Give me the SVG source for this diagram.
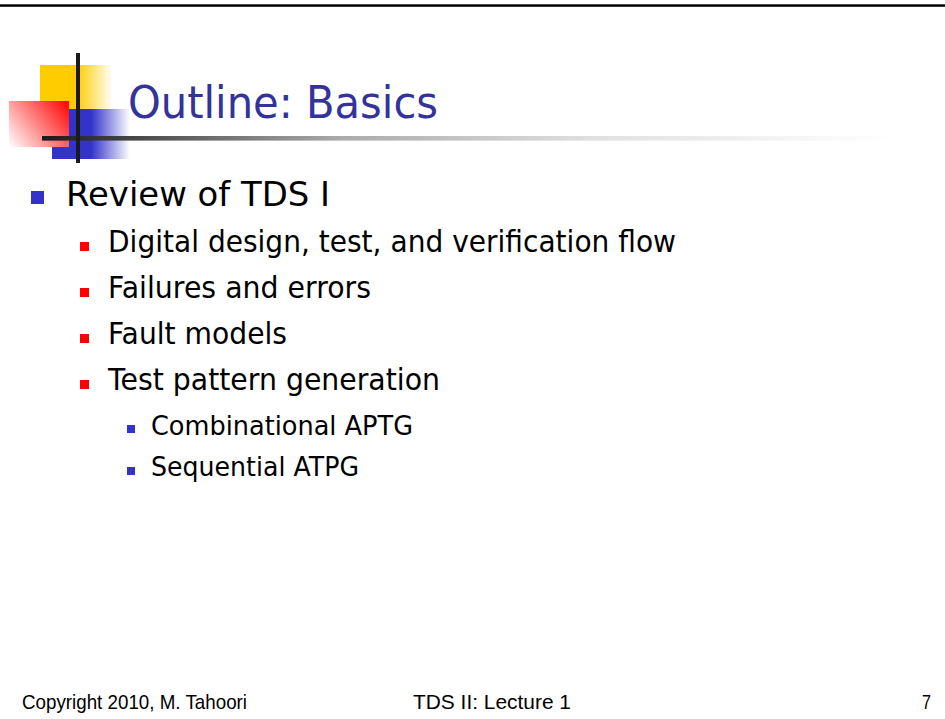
<svg xmlns="http://www.w3.org/2000/svg" width="945" height="719" viewBox="0 0 945 719">
  <defs>
    <linearGradient id="gYellow" x1="40" y1="0" x2="113" y2="0" gradientUnits="userSpaceOnUse">
      <stop offset="0" stop-color="#FFCC00"/>
      <stop offset="0.5" stop-color="#FFCC00"/>
      <stop offset="1" stop-color="#FFCC00" stop-opacity="0"/>
    </linearGradient>
    <linearGradient id="gBlue" x1="52" y1="0" x2="130" y2="0" gradientUnits="userSpaceOnUse">
      <stop offset="0" stop-color="#3333CC"/>
      <stop offset="0.5" stop-color="#3333CC"/>
      <stop offset="1" stop-color="#3333CC" stop-opacity="0"/>
    </linearGradient>
    <linearGradient id="gRed" x1="69" y1="101" x2="9" y2="147" gradientUnits="userSpaceOnUse">
      <stop offset="0" stop-color="#FF0000"/>
      <stop offset="1" stop-color="#FFFFFF"/>
    </linearGradient>
    <linearGradient id="gLine" x1="42" y1="0" x2="892" y2="0" gradientUnits="userSpaceOnUse">
      <stop offset="0" stop-color="#1a1a1a"/>
      <stop offset="0.1" stop-color="#444444"/>
      <stop offset="0.35" stop-color="#aaaaaa"/>
      <stop offset="0.65" stop-color="#e0e0e0"/>
      <stop offset="1" stop-color="#ffffff"/>
    </linearGradient>
  </defs>
  <style>
    .t { font-family: "DejaVu Sans", "Noto Sans", sans-serif; fill: #000; }
    .l1 { font-size: 34px; }
    .l2 { font-size: 30px; }
    .l3 { font-size: 26px; }
    .title { font-family: "DejaVu Sans", "Noto Sans", sans-serif; font-size: 44px; fill: #333399; }
    .foot { font-family: "Liberation Sans", Arial, sans-serif; font-size: 21px; fill: #000; }
    .bBlue { fill: #3333CC; }
    .bRed { fill: #FF0000; }
  </style>
  <rect x="0" y="0" width="945" height="719" fill="#ffffff"/>
  <rect id="topRule" x="0" y="4.3" width="945" height="2.5" fill="#000"/>

  <g id="logo">
    <rect x="40" y="65" width="73" height="44" fill="url(#gYellow)"/>
    <rect x="52" y="109" width="78" height="50" fill="url(#gBlue)"/>
    <rect x="9" y="101" width="60" height="46" fill="url(#gRed)"/>
    <rect x="42" y="136" width="850" height="4.6" fill="url(#gLine)"/>
    <rect x="76" y="53" width="4" height="110" fill="#1a1a1a"/>
  </g>

  <g id="title">
    <text class="title" x="128" y="118" textLength="310" lengthAdjust="spacingAndGlyphs">Outline: Basics</text>
  </g>

  <g id="item-review">
    <rect class="bBlue" x="31" y="191" width="13" height="13"/>
    <text class="t l1" x="66" y="206" textLength="264" lengthAdjust="spacingAndGlyphs">Review of TDS I</text>
  </g>
  <g id="item-digital">
    <rect class="bRed" x="80" y="242" width="9" height="9"/>
    <text class="t l2" x="108" y="252" textLength="568" lengthAdjust="spacingAndGlyphs">Digital design, test, and verification flow</text>
  </g>
  <g id="item-failures">
    <rect class="bRed" x="80" y="288" width="9" height="9"/>
    <text class="t l2" x="108" y="298" textLength="263" lengthAdjust="spacingAndGlyphs">Failures and errors</text>
  </g>
  <g id="item-fault">
    <rect class="bRed" x="80" y="334" width="9" height="9"/>
    <text class="t l2" x="108" y="344" textLength="179" lengthAdjust="spacingAndGlyphs">Fault models</text>
  </g>
  <g id="item-tpg">
    <rect class="bRed" x="80" y="380" width="9" height="9"/>
    <text class="t l2" x="108" y="390" textLength="332" lengthAdjust="spacingAndGlyphs">Test pattern generation</text>
  </g>
  <g id="item-comb">
    <rect class="bBlue" x="127" y="425" width="8" height="8"/>
    <text class="t l3" x="151" y="435" textLength="262" lengthAdjust="spacingAndGlyphs">Combinational APTG</text>
  </g>
  <g id="item-seq">
    <rect class="bBlue" x="127" y="467" width="8" height="8"/>
    <text class="t l3" x="151" y="476" textLength="208" lengthAdjust="spacingAndGlyphs">Sequential ATPG</text>
  </g>

  <g id="footer">
    <text class="foot" x="22" y="709" textLength="225" lengthAdjust="spacingAndGlyphs">Copyright 2010, M. Tahoori</text>
    <text class="foot" x="413" y="709" textLength="158" lengthAdjust="spacingAndGlyphs">TDS II: Lecture 1</text>
    <text class="foot" x="922" y="709" textLength="9" lengthAdjust="spacingAndGlyphs">7</text>
  </g>
</svg>
